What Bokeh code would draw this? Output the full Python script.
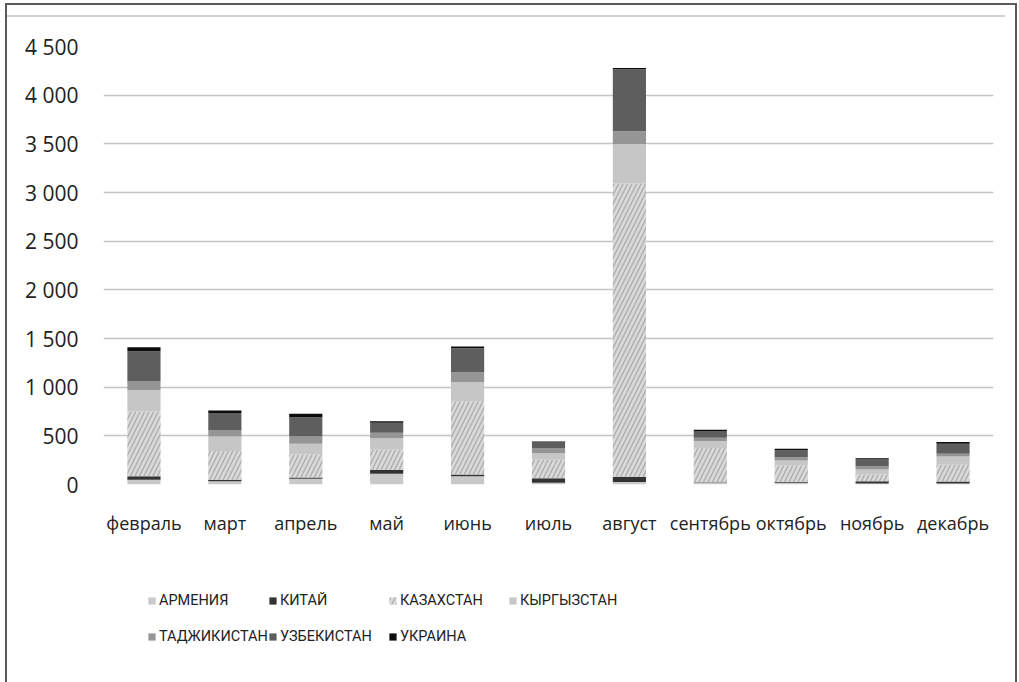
from bokeh.plotting import figure
from bokeh.layouts import column
from bokeh.models import ColumnDataSource, FactorRange, FixedTicker, Legend, LegendItem
from bokeh.embed import file_html
from bokeh.resources import INLINE

months = ["февраль", "март", "апрель", "май", "июнь", "июль", "август",
          "сентябрь", "октябрь", "ноябрь", "декабрь"]
countries = ["АРМЕНИЯ", "КИТАЙ", "КАЗАХСТАН", "КЫРГЫЗСТАН", "ТАДЖИКИСТАН", "УЗБЕКИСТАН", "УКРАИНА"]

armenia    = [48, 34, 58, 110, 86, 17, 25, 17, 17, 10, 10]
china      = [38, 15, 14, 41, 17, 48, 55, 5, 10, 24, 20]
kazakhstan = [664, 294, 236, 205, 753, 188, 3013, 352, 172, 69, 172]
kyrgyzstan = [222, 151, 110, 120, 195, 68, 405, 72, 48, 52, 86]
tajikistan = [86, 62, 75, 55, 103, 55, 130, 34, 34, 31, 28]
uzbekistan = [311, 178, 199, 103, 246, 55, 637, 69, 72, 79, 103]
ukraine    = [41, 27, 34, 17, 17, 10, 15, 14, 14, 7, 17]

y_ticks = [0, 500, 1000, 1500, 2000, 2500, 3000, 3500, 4000, 4500]
y_tick_labels = ["0", "500", "1 000", "1 500", "2 000", "2 500", "3 000", "3 500", "4 000", "4 500"]

colors = ["#c9c9c9", "#333333", "#dadada", "#c6c6c6", "#959595", "#5e5e5e", "#0d0d0d"]

series = [armenia, china, kazakhstan, kyrgyzstan, tajikistan, uzbekistan, ukraine]
source = ColumnDataSource(dict(month=months, **{c: v for c, v in zip(countries, series)}))


def style_kz(r):
    r.glyph.hatch_pattern = "/"
    r.glyph.hatch_color = "#8c8c8c"
    r.glyph.hatch_alpha = 0.55
    r.glyph.hatch_scale = 9
    r.glyph.hatch_weight = 1.5


# ---- main chart ----
p = figure(x_range=FactorRange(*months, range_padding=0), y_range=(0, 4500),
           width=1008, height=560, output_backend="svg", toolbar_location=None,
           min_border_left=96, min_border_right=22, min_border_top=41, min_border_bottom=81)
p.outline_line_color = None
p.background_fill_color = "white"
p.border_fill_alpha = 0

renderers = p.vbar_stack(countries, x="month", width=0.41, source=source,
                         color=colors, line_color=None)
style_kz(renderers[2])

p.xgrid.grid_line_color = None
p.ygrid.grid_line_color = "#c4c4c4"
p.ygrid.grid_line_width = 1.5
p.ygrid.ticker = FixedTicker(ticks=y_ticks)

p.yaxis.ticker = FixedTicker(ticks=y_ticks)
p.yaxis.major_label_overrides = {t: l for t, l in zip(y_ticks, y_tick_labels)}
p.yaxis.axis_line_color = None
p.yaxis.major_tick_line_color = None
p.yaxis.minor_tick_line_color = None
p.yaxis.major_tick_out = 0
p.yaxis.major_tick_in = 0
p.yaxis.major_label_standoff = 25
p.yaxis.major_label_text_font = "Open Sans"
p.yaxis.major_label_text_font_size = "21px"
p.yaxis.major_label_text_color = "#222222"

p.xaxis.axis_line_color = None
p.xaxis.major_tick_line_color = None
p.xaxis.major_tick_out = 0
p.xaxis.major_tick_in = 0
p.xaxis.major_label_standoff = 26
p.xaxis.major_label_text_font = "Open Sans"
p.xaxis.major_label_text_font_size = "18px"
p.xaxis.major_label_text_color = "#222222"

# ---- legend strip (hidden copies of the stacked renderers provide the swatches) ----
leg = figure(x_range=FactorRange(*months, range_padding=0), y_range=(-2, -1),
             width=1008, height=117, output_backend="svg", toolbar_location=None,
             x_axis_type=None, y_axis_type=None,
             min_border_left=0, min_border_right=0, min_border_top=0, min_border_bottom=0)
leg.outline_line_color = None
leg.background_fill_alpha = 0
leg.border_fill_alpha = 0
leg.xgrid.visible = False
leg.ygrid.visible = False

legend_renderers = leg.vbar_stack(countries, x="month", width=0.41, source=source,
                                  color=colors, line_color=None)
style_kz(legend_renderers[2])
for r in legend_renderers:
    r.visible = False

by_name = dict(zip(countries, legend_renderers))
order = ["АРМЕНИЯ", "ТАДЖИКИСТАН", "КИТАЙ", "УЗБЕКИСТАН", "КАЗАХСТАН", "УКРАИНА", "КЫРГЫЗСТАН"]
items = [LegendItem(label=c, renderers=[by_name[c]]) for c in order]
legend = Legend(items=items, ncols=4, location=(44, 28),
                padding=0, margin=0, spacing=0,
                glyph_width=9, glyph_height=9, label_standoff=3,
                label_width=108, label_height=36,
                label_text_font="Roboto", label_text_font_size="14.5px",
                label_text_color="#222222",
                border_line_color=None, background_fill_alpha=0)
leg.add_layout(legend, "center")

page = column(p, leg, spacing=0)
page.styles = {
    "border-left": "2px solid #5a5a5a",
    "border-top": "2px solid #5a5a5a",
    "border-right": "2px solid #5a5a5a",
    "margin-left": "5px",
    "margin-top": "3px",
    "background": "linear-gradient(#d0d0d0, #d0d0d0) no-repeat 0px 10px / 998px 2px, white",
}

open("out.html", "w").write(file_html(page, INLINE))
